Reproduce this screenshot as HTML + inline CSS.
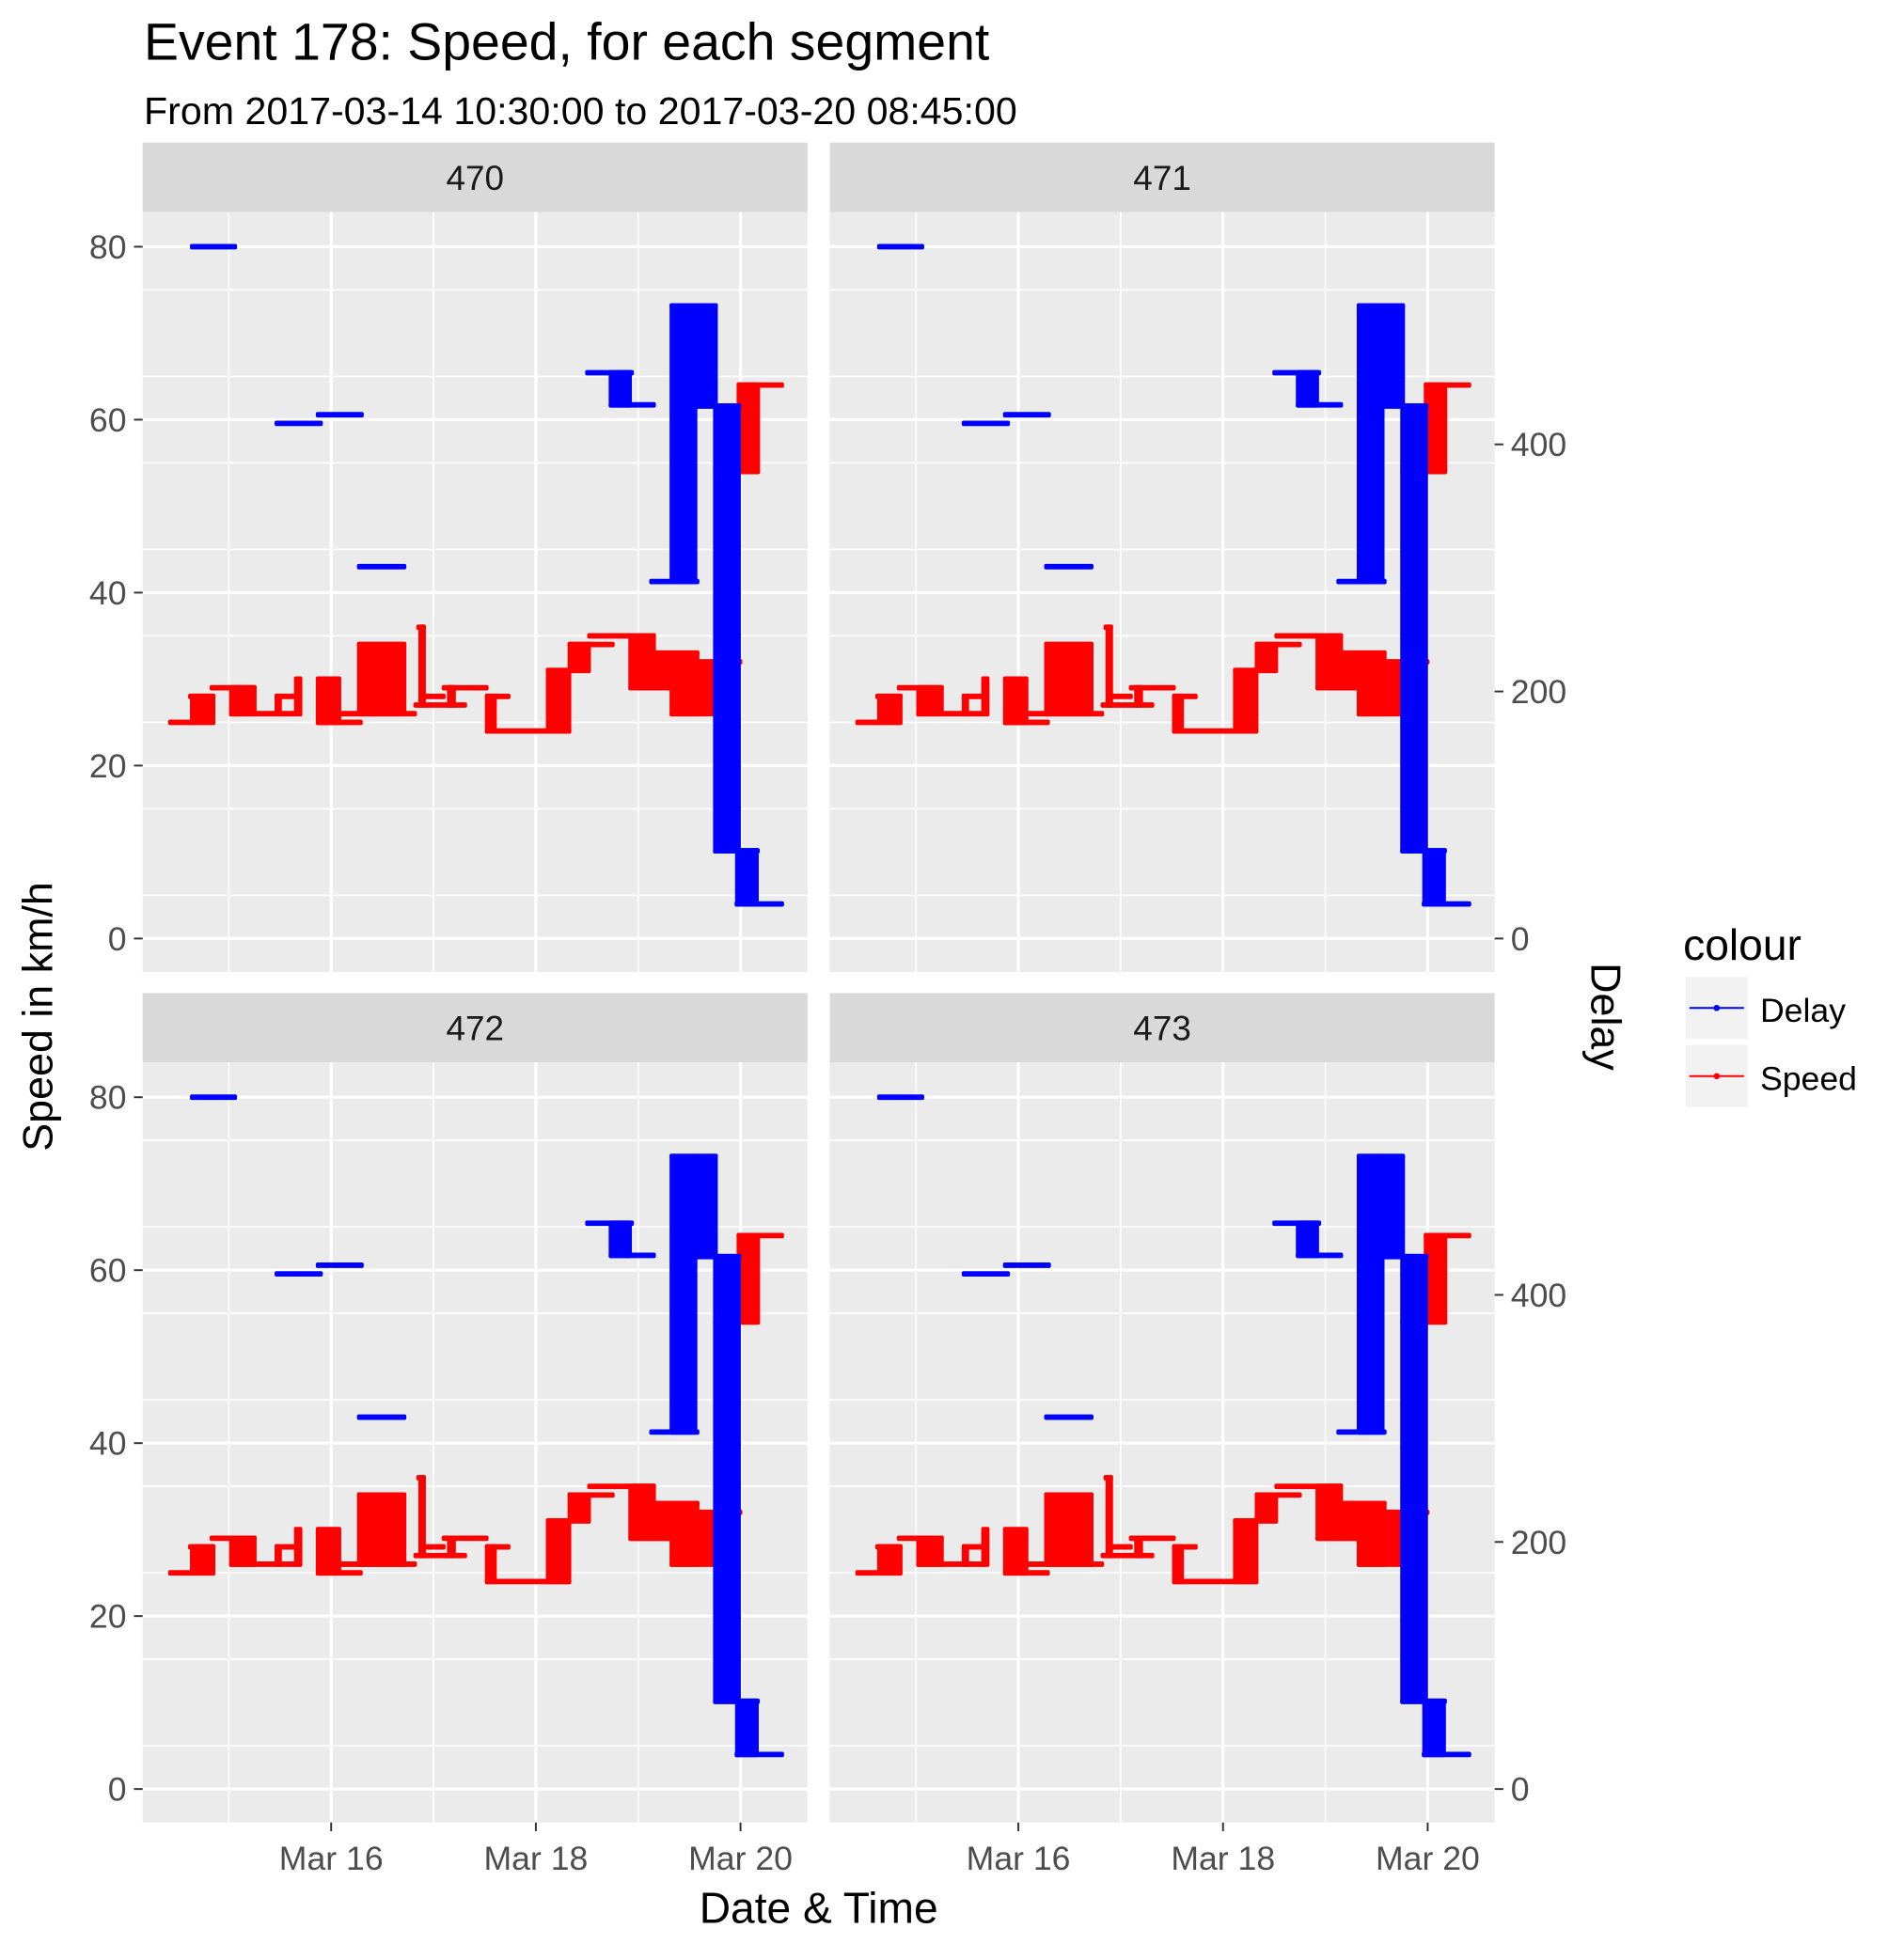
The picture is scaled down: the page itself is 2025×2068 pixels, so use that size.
<!DOCTYPE html>
<html><head><meta charset="utf-8"><style>
html,body{margin:0;padding:0;background:#fff}
svg{display:block}
text{font-family:"Liberation Sans",sans-serif}
</style></head><body>
<svg id="chart" width="2025" height="2068" viewBox="0 0 1535 1568" preserveAspectRatio="none" xmlns="http://www.w3.org/2000/svg">
<text x="116" y="48" font-size="42" fill="#000">Event 178: Speed, for each segment</text>
<text x="116" y="100" font-size="31.2" fill="#000">From 2017-03-14 10:30:00 to 2017-03-20 08:45:00</text>
<text transform="translate(42,820) rotate(-90)" text-anchor="middle" font-size="34">Speed in km/h</text>
<text transform="translate(1283,820) rotate(90)" text-anchor="middle" font-size="34">Delay</text>
<text x="660" y="1551" text-anchor="middle" font-size="35">Date &amp; Time</text>
<g>
<text x="1357" y="774" font-size="35">colour</text>
<rect x="1359" y="788" width="50" height="50" fill="#F2F2F2"/>
<line x1="1362" x2="1406" y1="813" y2="813" stroke="#0000ff" stroke-width="1.5"/><circle cx="1384" cy="813" r="2.5" fill="#0000ff"/>
<text x="1419" y="824" font-size="27">Delay</text>
<rect x="1359" y="843" width="50" height="50" fill="#F2F2F2"/>
<line x1="1362" x2="1406" y1="868" y2="868" stroke="#ff0000" stroke-width="1.5"/><circle cx="1384" cy="868" r="2.5" fill="#ff0000"/>
<text x="1419" y="879" font-size="27">Speed</text>
</g>
</svg>
<script>
// Speed blocks: [dayStart, dayEnd, low, high] (days since Mar 14 00:00, km/h)
const speedStart=[0.425,0.638,0.62,0.83,1.02,1.02,1.465,1.465,1.655,1.868,1.868,2.27,2.27,2.1,2.87,2.85,2.9,2.822,3.15,3.098,3.52,3.52,3.52,4.116,4.116,4.328,4.328,4.52,4.519,4.922,4.922,5.155,5.155,5.325,5.325,5.95,5.75,5.98,5.98];
const speedEnd  =[0.638,0.85,0.85,1.253,1.253,1.655,1.5,1.655,1.7,2.08,2.29,2.716,2.716,2.82,2.907,2.907,3.1,3.31,3.2,3.52,3.734,3.6,4.328,4.328,4.328,4.52,4.55,5.155,4.752,5.155,5.325,5.58,5.58,5.75,5.58,6.0,6.0,6.173,6.407];
const speedLow  =[25,25,28,29,26,26,26,28,26,25,25,26,34,26,27,36,28,27,27,29,28,24,24,24,31,31,34,35,34,29,29,29,33,26,26,32,54,54,64];
const speedHigh =[25,28,28,29,29,26,28,28,30,30,25,34,34,26,36,36,28,27,29,29,28,28,24,31,31,34,34,35,34,35,29,33,33,32,26,32,54,64,64];
// Delay blocks: [dayStart, dayEnd, low, high] (delay units)
const delayStart=[0.638,1.465,1.868,2.27,4.5,4.73,4.73,5.126,5.325,5.56,5.325,5.75,5.965,5.75,5.75,5.98,5.96];
const delayEnd  =[1.062,1.9,2.30,2.716,4.94,4.92,5.155,5.58,5.56,5.76,5.76,5.95,5.985,5.99,6.17,6.16,6.407];
const delayLow  =[560,417,424,301,458,432,432,289,289,431,512,71,28,431,71,28,28];
const delayHigh =[560,417,424,301,458,458,432,289,512,512,512,431,431,431,71,71,28];
const facets=["470","471","472","473"];
const yTicks=[0,20,40,60,80];
const delayTicks=[0,200,400];
const xTickDays=[2,4,6];
const xTickLabels=["Mar 16","Mar 18","Mar 20"];
const DELAY_RATIO=7;

const svg=document.getElementById('chart');
const NS="http://www.w3.org/2000/svg";
function mk(tag,attrs,parent){const e=document.createElementNS(NS,tag);for(const k in attrs)e.setAttribute(k,attrs[k]);(parent||svg).appendChild(e);return e;}

const PW=536,PH=613;
facets.forEach((f,i)=>{
  const col=i%2,row=Math.floor(i/2);
  const px=col?669:115, py=row?857:171;
  const xs=d=>px+152+(d-2)*82.5;
  const ys=v=>py+586-v*6.975;
  const g=mk('g',{});
  
  
  const strip=mk('rect',{x:px,y:py-56,width:PW,height:56,fill:'#D9D9D9'},g);
  
  
  const st=mk('text',{x:px+PW/2,y:py-18,'text-anchor':'middle','font-size':28,fill:'#1a1a1a'},g);st.textContent=f;
  
  
  mk('rect',{x:px,y:py,width:PW,height:PH,fill:'#EBEBEB'},g);
  const clip=mk('clipPath',{id:'c'+i},g);mk('rect',{x:px,y:py,width:PW,height:PH},clip);
  for(let v=-5;v<=85;v+=10){const y=ys(v);if(y>py&&y<py+PH)mk('line',{x1:px,x2:px+PW,y1:y,y2:y,stroke:'#fff','stroke-width':1.2},g);}
  [1,3,5].forEach(d=>mk('line',{x1:xs(d),x2:xs(d),y1:py,y2:py+PH,stroke:'#fff','stroke-width':1.2},g));
  yTicks.forEach(v=>mk('line',{x1:px,x2:px+PW,y1:ys(v),y2:ys(v),stroke:'#fff','stroke-width':2.4},g));
  xTickDays.forEach(d=>mk('line',{x1:xs(d),x2:xs(d),y1:py,y2:py+PH,stroke:'#fff','stroke-width':2.4},g));
  const dg=mk('g',{'clip-path':'url(#c'+i+')'},g);
  function block(t0,t1,lo,hi,color,name){
    const x0=xs(t0),x1=xs(t1),y0=ys(hi),y1=ys(lo);
    const r=mk('rect',{x:x0-1.5,y:y0-2.2,width:Math.max(x1-x0+3,3),height:y1-y0+4.4,fill:color,rx:1.5},dg);
    
    
  }
  speedStart.forEach((t,k)=>block(t,speedEnd[k],speedLow[k],speedHigh[k],'#ff0000','speed-step'));
  delayStart.forEach((t,k)=>block(t,delayEnd[k],delayLow[k]/DELAY_RATIO,delayHigh[k]/DELAY_RATIO,'#0000ff','delay-step'));
  if(col===0){
    yTicks.forEach(v=>{
      mk('line',{x1:px-7,x2:px,y1:ys(v),y2:ys(v),stroke:'#333','stroke-width':1.5},g);
      const t=mk('text',{x:px-13,y:ys(v)+9.5,'text-anchor':'end','font-size':27,fill:'#4d4d4d'},g);t.textContent=v;
      
      
    });
  } else {
    delayTicks.forEach(v=>{
      const y=ys(v/DELAY_RATIO);
      mk('line',{x1:px+PW,x2:px+PW+7,y1:y,y2:y,stroke:'#333','stroke-width':1.5},g);
      const t=mk('text',{x:px+PW+13,y:y+9.5,'font-size':27,fill:'#4d4d4d'},g);t.textContent=v;
      
      
    });
  }
  if(row===1){
    xTickDays.forEach((d,k)=>{
      mk('line',{x1:xs(d),x2:xs(d),y1:py+PH,y2:py+PH+7,stroke:'#333','stroke-width':1.5},g);
      const t=mk('text',{x:xs(d),y:py+PH+38,'text-anchor':'middle','font-size':27,fill:'#4d4d4d'},g);t.textContent=xTickLabels[k];
      
      
    });
  }
});
</script>
</body></html>
